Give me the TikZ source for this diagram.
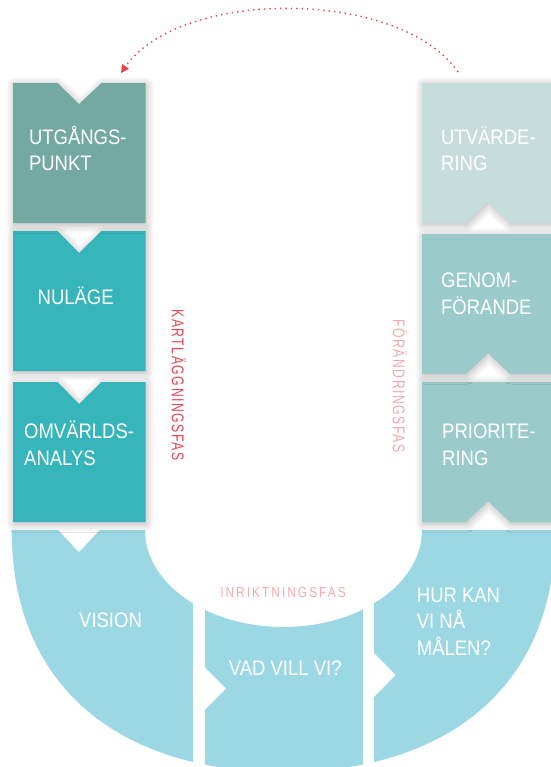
\documentclass[tikz,border=0pt]{standalone}
\usepackage{fontspec}
\setmainfont{Liberation Sans}[FakeStretch=0.88]
\newfontfamily\labfont{Liberation Sans}[FakeStretch=0.72,LetterSpace=9]
\newfontfamily\labfontb{Liberation Sans}[FakeStretch=0.82,LetterSpace=14]
\usetikzlibrary{shadows.blur,arrows.meta}
\definecolor{boxA}{HTML}{74A9A1}
\definecolor{boxB}{HTML}{36B5BA}
\definecolor{boxC}{HTML}{C7DDDB}
\definecolor{boxD}{HTML}{9ACACA}
\definecolor{ucol}{HTML}{9BD8E3}
\definecolor{redlab}{HTML}{E64652}
\definecolor{pinklab}{HTML}{F3A9B0}
\definecolor{arrred}{HTML}{E8414E}
\begin{document}
\begin{tikzpicture}[x=1pt,y=-1pt,
  boxtxt/.style={text=white,font=\fontsize{21}{26.3}\selectfont,align=left,anchor=base west,inner sep=0pt},
  phase/.style={font=\labfont\fontsize{17}{19}\selectfont,inner sep=0pt},
  phaseb/.style={font=\labfontb\fontsize{14.5}{16}\selectfont,inner sep=0pt},
  shad/.style={blur shadow={shadow xshift=1pt,shadow yshift=-2pt,shadow blur radius=8pt,shadow opacity=30,shadow blur steps=8}},
  arrsty/.style={arrred,line width=1.4pt,dash pattern=on 1.4pt off 4pt,-{Triangle[length=8pt,width=8pt]}}]
\useasboundingbox (0,0) rectangle (550,767);

% bottom U shape
\fill[ucol] (11.7,530) .. controls (11.7,690) and (123.5,772) .. (283.5,772)
  .. controls (443.5,772) and (555.3,690) .. (555.3,530) -- (422,530)
  arc[start angle=0,end angle=180,x radius=138.5,y radius=97] -- cycle;
\fill[white] (193,560) rectangle (204.5,780);
\fill[white] (363,560) rectangle (374,780);
\fill[white] (56.5,528) -- (79,552) -- (101.5,528) -- cycle;
\fill[white] (203,667) -- (204.5,667) -- (226,688.5) -- (204.5,710) -- (203,710) -- cycle;
\fill[white] (372.5,653) -- (374,653) -- (395.6,675) -- (374,697) -- (372.5,697) -- cycle;

% left column
\fill[boxB,shad] (13,382) -- (57.5,382) -- (79,404) -- (101.5,382) -- (145.6,382) -- (145.6,522) -- (13,522) -- cycle;
\fill[boxB,shad] (13,231) -- (57.5,231) -- (79,253) -- (101.5,231) -- (145.6,231) -- (145.6,371) -- (13,371) -- cycle;
\fill[boxA,shad] (13,83) -- (57.5,83) -- (79,104) -- (101.5,83) -- (145.6,83) -- (145.6,223) -- (13,223) -- cycle;

% right column
\fill[boxD,shad] (422,382) -- (570,382) -- (570,522) -- (510,522) -- (488,501) -- (466,522) -- (422,522) -- cycle;
\fill[boxD,shad] (422,234) -- (570,234) -- (570,374) -- (510,374) -- (488,353) -- (466,374) -- (422,374) -- cycle;
\fill[boxC,shad] (422,83) -- (570,83) -- (570,223) -- (510,223) -- (488,202) -- (466,223) -- (422,223) -- cycle;

% texts (base = baseline of the last line)
\node[boxtxt] (utg) at (28.8,171) {UTGÅNGS-\\PUNKT};
\node[boxtxt] (nul) at (37.5,304) {NULÄGE};
\node[boxtxt] (omv) at (24,465) {OMVÄRLDS-\\ANALYS};
\node[boxtxt] (utv) at (441,171) {UTVÄRDE-\\RING};
\node[boxtxt] (gen) at (441,314) {GENOM-\\FÖRANDE};
\node[boxtxt] (pri) at (442,465) {PRIORITE-\\RING};
\node[boxtxt] (vis) at (79,627.7) {VISION};
\node[boxtxt] (vad) at (228.7,675) {VAD VILL VI?};
\node[boxtxt] (hur) at (416.7,655) {HUR KAN\\VI NÅ\\MÅLEN?};

% phase labels
\node[phase,text=redlab,rotate=-90] (kart) at (179,385) {KARTLÄGGNINGSFAS};
\node[phase,text=pinklab,rotate=-90] (forf) at (400,386) {FÖRÄNDRINGSFAS};
\node[phaseb,text=pinklab,anchor=base] (inr) at (283,597.7) {INRIKTNINGSFAS};

% dotted arrow
\coordinate (arrS) at (458,72);
\coordinate (arrE) at (121,73);
\draw[arrsty] (arrS) .. controls (400,-12) and (180,-12) .. (arrE);
\end{tikzpicture}
\end{document}
